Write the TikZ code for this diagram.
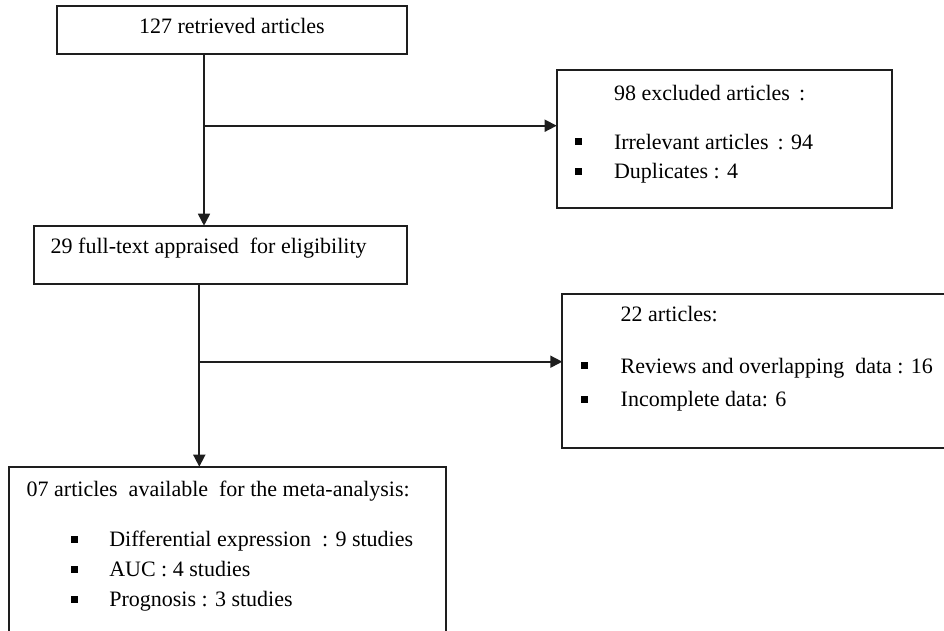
\documentclass[tikz,border=0pt]{standalone}
\usepackage{fontspec}
\setmainfont{Liberation Serif}
\usetikzlibrary{arrows.meta}
\definecolor{ink}{HTML}{1E1E1E}
\tikzset{
  box/.style={draw=ink, line width=1.7pt, anchor=north west, inner sep=0pt, outer sep=0pt},
  txt/.style={anchor=base west, inner sep=0pt, outer sep=0pt, text=black, font=\fontsize{22}{26}\selectfont},
  bul/.style={fill=black, minimum size=7pt, inner sep=0pt, outer sep=0pt},
  conn/.style={draw=ink, line width=1.7pt},
  arr/.style={conn, -{Triangle[length=12pt,width=12pt]}}
}
\begin{document}
\begin{tikzpicture}[x=1pt,y=-1pt]
\useasboundingbox (0,0) rectangle (944,630);
\clip (0,0) rectangle (944,630);
% boxes
\node[box, minimum width=350.6pt, minimum height=48.3pt] (b1) at (56.7,5.7) {};
\node[box, minimum width=373.3pt, minimum height=58.3pt] (b2) at (34,225.7) {};
\node[box, minimum width=335pt, minimum height=138.3pt] (e1) at (556.7,70) {};
\node[box, minimum width=390pt, minimum height=154pt] (e2) at (562.3,294.3) {};
\node[box, minimum width=437pt, minimum height=180pt] (b3) at (9,466.7) {};
% texts
\node[txt] (t1) at (139,33) {127 retrieved articles};
\node[txt] (t2) at (50.7,253) {29 full-text appraised \ for eligibility};
\node[txt] (t3) at (614,100) {98 excluded articles \,:};
\node[txt] (t4) at (614,149.3) {Irrelevant articles \,: 94};
\node[txt] (t5) at (614,178.3) {Duplicates : 4};
\node[txt] (t6) at (620.7,321.7) {22 articles:};
\node[txt] (t7) at (620.7,373.3) {Reviews and overlapping \ data : 16};
\node[txt] (t8) at (620.7,406) {Incomplete data: 6};
\node[txt] (t9) at (26.7,496) {07 articles \ available \ for the meta-analysis:};
\node[txt] (t10) at (109.3,546) {Differential expression \ : 9 studies};
\node[txt] (t11) at (109.3,576.7) {AUC : 4 studies};
\node[txt] (t12) at (109.3,606.7) {Prognosis : 3 studies};
% bullets
\node[bul] (u1) at (578,141) {};
\node[bul] (u2) at (578,171) {};
\node[bul] (u3) at (584.5,365.5) {};
\node[bul] (u4) at (584.5,399) {};
\node[bul] (u5) at (74,539) {};
\node[bul] (u6) at (74,569.5) {};
\node[bul] (u7) at (74,599.5) {};
% connectors
\coordinate (j1) at (204,125.7);
\coordinate (j2) at (199.3,361.7);
\draw[arr] (b1.south -| j1) -- (b2.north -| j1);
\draw[arr] (j1) -- (e1.west |- j1);
\draw[arr] (b2.south -| j2) -- (b3.north -| j2);
\draw[arr] (j2) -- (e2.west |- j2);
\end{tikzpicture}
\end{document}
